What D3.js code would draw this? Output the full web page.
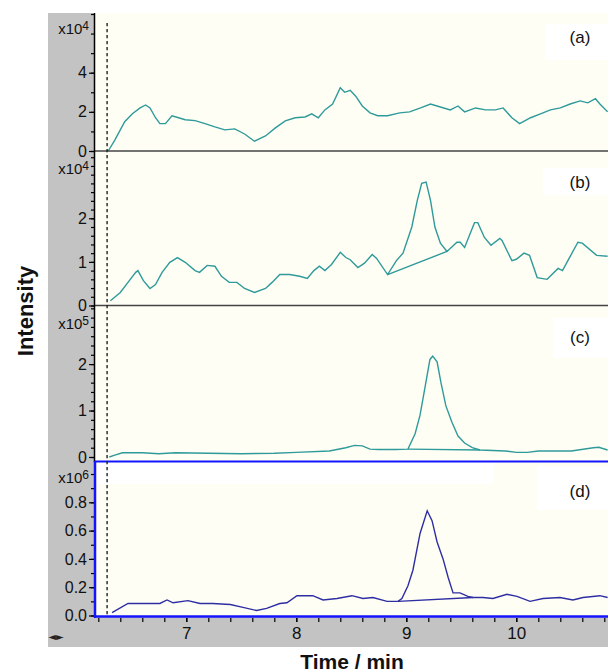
<!DOCTYPE html>
<html><head><meta charset="utf-8">
<script src="https://cdn.jsdelivr.net/npm/d3@7"></script>
<style>html,body{margin:0;padding:0;background:#fff;}svg{display:block;font-family:Arial,"Liberation Sans",sans-serif;}</style>
</head><body>
<svg id="chart" width="608" height="672"></svg>
<script>
// ---------- DATA ----------
const panelLabels = ["(a)", "(b)", "(c)", "(d)"];
const panelExponents = ["4", "4", "5", "6"];
const xTickLabels = [7, 8, 9, 10];
const markerTime = 6.28;

const timeA = [6.29,6.35,6.40,6.44,6.51,6.58,6.63,6.67,6.72,6.76,6.81,6.87,6.93,6.99,7.08,7.17,7.26,7.35,7.44,7.53,7.62,7.72,7.81,7.90,7.99,8.08,8.14,8.20,8.26,8.33,8.40,8.44,8.49,8.54,8.60,8.67,8.74,8.83,8.94,9.03,9.13,9.22,9.31,9.40,9.47,9.53,9.63,9.72,9.81,9.88,9.96,10.03,10.13,10.22,10.31,10.40,10.49,10.58,10.65,10.72,10.76,10.83];
const valA  = [0,0.56,1.08,1.5,1.9,2.2,2.35,2.2,1.7,1.4,1.4,1.8,1.7,1.6,1.55,1.4,1.23,1.08,1.13,0.87,0.5,0.77,1.18,1.54,1.7,1.74,1.9,1.7,2.1,2.4,3.23,3.0,3.1,2.8,2.3,1.95,1.8,1.8,1.95,2.0,2.2,2.4,2.25,2.1,2.3,2.0,2.2,2.1,2.1,2.2,1.7,1.4,1.7,1.9,2.1,2.2,2.4,2.56,2.46,2.67,2.4,2.0];

const timeB = [6.31,6.40,6.47,6.54,6.56,6.61,6.67,6.72,6.78,6.85,6.92,6.99,7.08,7.12,7.19,7.26,7.32,7.39,7.46,7.53,7.62,7.72,7.78,7.85,7.94,8.03,8.10,8.16,8.21,8.26,8.32,8.40,8.45,8.49,8.56,8.62,8.69,8.73,8.83,8.91,8.97,9.05,9.10,9.14,9.18,9.22,9.26,9.31,9.37,9.46,9.49,9.53,9.62,9.65,9.71,9.77,9.85,9.87,9.96,10.00,10.07,10.12,10.19,10.28,10.38,10.42,10.48,10.56,10.60,10.73,10.83];
const valB  = [0.11,0.3,0.53,0.76,0.8,0.57,0.39,0.48,0.76,0.99,1.1,0.99,0.8,0.76,0.92,0.9,0.67,0.53,0.53,0.39,0.3,0.39,0.53,0.71,0.71,0.67,0.62,0.8,0.9,0.8,0.94,1.22,1.1,1.05,0.87,0.97,1.17,1.08,0.71,1.03,1.2,1.8,2.41,2.8,2.83,2.41,1.8,1.43,1.24,1.45,1.45,1.33,1.9,1.9,1.56,1.38,1.54,1.49,1.03,1.06,1.2,1.15,0.64,0.6,0.85,0.8,1.08,1.45,1.43,1.15,1.13];
const baseB = [[8.83,0.71],[9.37,1.24]];

const timeC = [6.30,6.35,6.42,6.60,6.75,6.90,7.20,7.50,7.80,8.00,8.30,8.45,8.53,8.60,8.67,8.75,8.90,9.015,9.08,9.125,9.17,9.215,9.24,9.28,9.315,9.36,9.415,9.47,9.53,9.60,9.67,9.90,10.00,10.10,10.20,10.50,10.70,10.75,10.83];
const valC  = [0,0.04,0.09,0.09,0.07,0.09,0.08,0.07,0.08,0.1,0.13,0.2,0.25,0.24,0.17,0.16,0.16,0.17,0.5,0.9,1.5,2.1,2.17,2.05,1.6,1.1,0.75,0.45,0.3,0.2,0.15,0.13,0.1,0.1,0.13,0.13,0.2,0.21,0.15];
const baseC = [[9.015,0.17],[9.67,0.15]];

const timeD = [6.325,6.47,6.76,6.825,6.88,7.015,7.125,7.24,7.40,7.515,7.64,7.73,7.85,7.915,8.006,8.15,8.243,8.37,8.506,8.606,8.697,8.825,8.925,8.96,9.015,9.06,9.125,9.19,9.234,9.28,9.334,9.38,9.425,9.488,9.56,9.606,9.697,9.788,9.915,10.006,10.125,10.243,10.397,10.515,10.606,10.76,10.83];
const valD  = [0.02,0.085,0.085,0.11,0.09,0.105,0.085,0.085,0.078,0.057,0.035,0.05,0.085,0.09,0.14,0.14,0.11,0.12,0.14,0.12,0.127,0.1,0.1,0.12,0.21,0.32,0.58,0.74,0.67,0.52,0.4,0.27,0.16,0.16,0.135,0.127,0.127,0.12,0.15,0.135,0.1,0.12,0.127,0.11,0.127,0.14,0.127];
const baseD = [[8.925,0.1],[9.606,0.127]];

// ---------- LAYOUT ----------
const svg = d3.select("#chart");
const L = 95, R = 608, TOP = 13, AXB = 617;
const teal = "#2f9a9a", navy = "#2e2ea3", blue = "#1414ff";

const x = d3.scaleLinear().domain([6.17, 6.17 + (R - L) / 110]).range([L, R]);

// gray frame
svg.append("rect").attr("x", 48).attr("y", TOP).attr("width", L - 48).attr("height", 647 - TOP).attr("fill", "#c3c3c3");
svg.append("rect").attr("x", 48).attr("y", AXB).attr("width", R - 48).attr("height", 647 - AXB).attr("fill", "#c3c3c3");
// plot background
svg.append("rect").attr("x", L).attr("y", TOP).attr("width", R - L).attr("height", AXB - TOP).attr("fill", "#fefef5");

// white label boxes / light areas
const whites = [[545,24,63,36],[543,168,65,27],[553,318,55,40],[537,466,71,44],[96,462,397,22]];
whites.forEach(w => svg.append("rect").attr("x", w[0]).attr("y", w[1]).attr("width", w[2]).attr("height", w[3]).attr("fill", "#ffffff"));

const panels = [
  {t: timeA, v: valA, base: null, zero: 151, top: 14, max: 7, minor: 1, labels: [0,2,4], fmt: d3.format("d"), color: teal, expY: 34, labY: 43},
  {t: timeB, v: valB, base: baseB, zero: 305.5, top: 152, max: 3.52, minor: 0.2, labels: [0,1,2], fmt: d3.format("d"), color: teal, expY: 174, labY: 188},
  {t: timeC, v: valC, base: baseC, zero: 457, top: 306, max: 3.25, minor: 0.2, labels: [0,1,2], fmt: d3.format("d"), color: teal, expY: 329, labY: 343},
  {t: timeD, v: valD, base: baseD, zero: 615.5, top: 461, max: 1.092, minor: 0.1, labels: [0,0.2,0.4,0.6,0.8], fmt: d3.format(".1f"), color: navy, expY: 483, labY: 497}
];

panels.forEach((p, i) => {
  const y = d3.scaleLinear().domain([0, p.max]).range([p.zero, p.top]);
  const g = svg.append("g");
  const n = Math.floor(p.max / p.minor + 1e-6);
  const minors = d3.range(0, n + 1).map(k => +(k * p.minor).toFixed(3));
  const ax = d3.axisLeft(y).tickValues(minors).tickSize(4).tickFormat("");
  g.append("g").attr("transform", `translate(${L},0)`).call(ax)
    .call(s => s.select(".domain").remove())
    .call(s => s.selectAll("line").attr("stroke", "#000").attr("stroke-width", 1.2));
  const axM = d3.axisLeft(y).tickValues(p.labels).tickSize(6).tickPadding(2).tickFormat(p.fmt);
  g.append("g").attr("transform", `translate(${L},0)`).call(axM)
    .call(s => s.select(".domain").remove())
    .call(s => s.selectAll("line").attr("stroke", "#000").attr("stroke-width", 1.2))
    .call(s => s.selectAll("text").attr("font-size", 16).attr("fill", "#111").attr("font-family", "Arial, 'Liberation Sans', sans-serif"));
  const ex = g.append("text").attr("x", 89).attr("y", p.expY).attr("text-anchor", "end")
    .attr("font-size", 15).attr("fill", "#111");
  ex.append("tspan").text("x10");
  ex.append("tspan").attr("dy", -4).attr("font-size", 12).text(panelExponents[i]);

  const line = d3.line().x(d => x(d[0])).y(d => y(d[1]));
  const pts = p.t.map((t, k) => [t, p.v[k]]);
  g.append("path").attr("d", line(pts)).attr("fill", "none").attr("stroke", p.color).attr("stroke-width", 1.4);
  if (p.base) g.append("path").attr("d", line(p.base)).attr("fill", "none").attr("stroke", p.color).attr("stroke-width", 1.4);

  svg.append("text").attr("x", 580).attr("y", p.labY).attr("text-anchor", "middle")
    .attr("font-size", 17).attr("fill", "#111").text(panelLabels[i]);
});

// separators
svg.append("line").attr("x1", L).attr("x2", R).attr("y1", 151).attr("y2", 151).attr("stroke", "#444").attr("stroke-width", 1.6);
svg.append("line").attr("x1", L).attr("x2", R).attr("y1", 305.5).attr("y2", 305.5).attr("stroke", "#444").attr("stroke-width", 1.6);
svg.append("line").attr("x1", L).attr("x2", R).attr("y1", 461.5).attr("y2", 461.5).attr("stroke", blue).attr("stroke-width", 2);
svg.append("line").attr("x1", L).attr("x2", R).attr("y1", 616.5).attr("y2", 616.5).attr("stroke", blue).attr("stroke-width", 2.5);
svg.append("line").attr("x1", L - 0.5).attr("x2", L - 0.5).attr("y1", TOP).attr("y2", 462).attr("stroke", "#000").attr("stroke-width", 1.5);
svg.append("line").attr("x1", L).attr("x2", L).attr("y1", 461).attr("y2", 618).attr("stroke", blue).attr("stroke-width", 2.5);

// dashed marker
svg.append("line").attr("x1", x(markerTime)).attr("x2", x(markerTime)).attr("y1", 23).attr("y2", 616)
  .attr("stroke", "#222").attr("stroke-width", 1.4).attr("stroke-dasharray", "3.3,2.7");

// x axis
const xMinor = d3.range(31, 55).map(k => k / 5);
svg.append("g").attr("transform", `translate(0,${AXB + 1})`)
  .call(d3.axisBottom(x).tickValues(xMinor).tickSize(4).tickFormat(""))
  .call(s => s.select(".domain").remove())
  .call(s => s.selectAll("line").attr("stroke", "#000").attr("stroke-width", 1.2));
svg.append("g").attr("transform", `translate(0,${AXB + 1})`)
  .call(d3.axisBottom(x).tickValues(xTickLabels).tickSize(4).tickPadding(5).tickFormat(d3.format("d")))
  .call(s => s.select(".domain").remove())
  .call(s => s.selectAll("line").attr("stroke", "#000").attr("stroke-width", 1.2))
  .call(s => s.selectAll("text").attr("font-size", 17).attr("fill", "#111").attr("font-family", "Arial, 'Liberation Sans', sans-serif"));

svg.append("text").attr("x", 56).attr("y", 640).attr("text-anchor", "middle").attr("font-size", 10)
  .attr("font-family", "'DejaVu Sans', sans-serif").attr("fill", "#222").text("◄►");

// axis titles
svg.append("text").attr("x", 352).attr("y", 669).attr("text-anchor", "middle")
  .attr("font-size", 21).attr("font-weight", "bold").attr("fill", "#111").text("Time / min");
svg.append("text").attr("transform", "translate(33,311) rotate(-90)").attr("text-anchor", "middle")
  .attr("font-size", 22).attr("font-weight", "bold").attr("fill", "#111").text("Intensity");
</script>
</body></html>
